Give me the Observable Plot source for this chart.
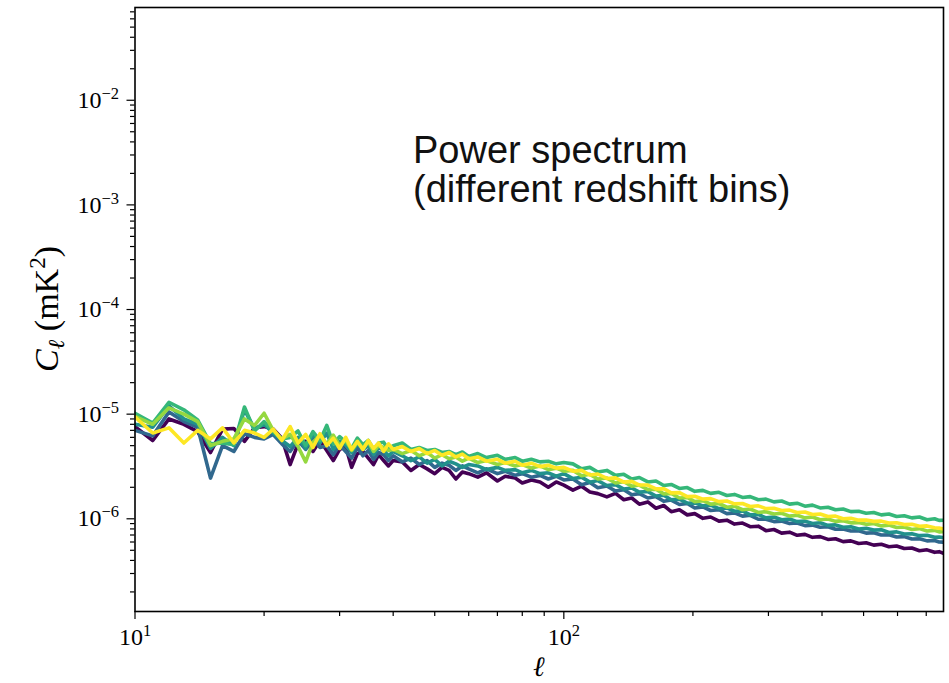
<!DOCTYPE html>
<html><head><meta charset="utf-8">
<script src="https://cdn.jsdelivr.net/npm/d3@7"></script>
<script src="https://cdn.jsdelivr.net/npm/@observablehq/plot@0.6"></script>
<style>
html,body{margin:0;padding:0;background:#fff;}
#chart{width:949px;height:683px;overflow:hidden;}
</style></head><body><div id="chart"></div>
<script>
// multipole ℓ sample points
const ell = [10,11,12,13,14,15,16,17,18,19,20,21,22,23,24,25,26,27,28,29,30,31,32,33,34,35,36,37,38,39,40,
42,44,46,48,50,52,54,56,58,60,
63,66,70,73,77,80,84,88,92,96,100,
105,110,115,120,126,132,138,144,150,
157,164,171,178,186,194,202,
211,220,230,240,250,261,272,284,296,
309,322,336,350,365,380,396,413,430,448,467,487,
507,528,550,573,597,622,648,675,703,732,750,768];

// C_ℓ values in units of 1e-6 mK^2, one array per redshift bin
const unit = 1e-6;
const bin1 = [7.6,5.6,9.0,8.0,6.8,4.3,7.2,7.3,5.5,7.4,7.6,
7.2,5.9,3.3,5.2,5.5,4.4,5.6,4.5,3.6,4.6,4.9,3.1,4.2,4.4,3.8,3.3,4.1,3.6,3.2,3.6,
3.5,2.9,3.3,3.0,2.7,3.1,2.9,2.4,2.8,2.7,
2.5,2.75,2.3,2.55,2.45,2.2,2.35,2.25,2.0,2.25,2.1,
1.88,2.05,1.8,1.74,1.62,1.75,1.52,1.58,1.38,
1.45,1.26,1.34,1.17,1.22,1.09,1.12,
1.01,1.04,0.95,0.97,0.89,0.91,0.84,0.85,0.77,
0.79,0.73,0.745,0.695,0.71,0.665,0.675,0.635,0.645,0.605,0.615,0.58,
0.59,0.56,0.57,0.54,0.55,0.52,0.525,0.495,0.505,0.478,0.485,0.468];
const bin2 = [7.0,6.2,10.5,8.5,7.5,2.45,5.0,4.4,6.5,6.0,5.8,
6.4,5.2,4.4,5.6,4.6,5.9,4.8,5.0,4.1,5.1,4.4,3.8,4.8,4.0,4.5,3.7,4.3,4.1,3.6,4.0,
3.5,3.8,3.3,3.6,3.1,3.4,3.25,2.9,3.2,3.0,
2.75,3.0,2.7,2.85,2.6,2.7,2.5,2.6,2.4,2.55,2.35,
2.4,2.12,2.22,1.98,2.06,1.84,1.9,1.7,1.74,
1.58,1.63,1.47,1.51,1.37,1.4,1.27,
1.3,1.2,1.22,1.12,1.14,1.06,1.08,0.99,0.99,
0.94,0.95,0.9,0.91,0.86,0.87,0.83,0.84,0.795,0.8,0.765,0.77,
0.73,0.735,0.7,0.705,0.67,0.675,0.64,0.645,0.615,0.62,0.6,0.598];
const bin3 = [8.0,7.5,12.0,9.0,8.0,4.7,6.0,5.0,11.0,7.2,8.0,
6.6,5.6,4.9,6.0,4.7,6.4,5.3,6.6,4.6,5.5,5.0,4.3,5.2,4.6,5.0,4.1,4.8,4.5,4.0,4.4,
4.0,3.6,3.9,3.4,3.7,3.2,3.55,3.35,3.1,3.3,
3.2,2.95,3.1,2.9,2.95,2.75,2.9,2.7,2.75,2.55,2.7,
2.42,2.5,2.24,2.32,2.08,2.12,1.92,1.97,1.8,
1.82,1.65,1.68,1.52,1.54,1.41,1.42,
1.33,1.35,1.25,1.27,1.18,1.19,1.09,1.1,1.02,
1.04,0.98,0.995,0.94,0.95,0.9,0.915,0.865,0.875,0.83,0.84,0.8,
0.81,0.78,0.785,0.74,0.75,0.715,0.72,0.69,0.695,0.665,0.67,0.66];
const bin4 = [10.2,8.2,13.0,11.0,8.8,5.2,5.3,5.1,11.7,6.9,8.5,
6.8,5.8,6.0,6.9,5.0,6.8,5.6,7.8,5.2,6.1,5.4,4.7,5.9,5.1,5.6,4.6,5.3,5.4,4.6,5.0,
5.3,4.6,4.8,4.5,4.6,4.3,4.4,4.1,4.35,3.95,
4.2,3.85,4.05,3.7,3.85,3.55,3.7,3.5,3.55,3.35,3.45,
3.35,3.0,3.1,2.8,2.9,2.6,2.66,2.4,2.48,
2.25,2.3,2.08,2.13,1.95,1.99,1.83,
1.87,1.75,1.79,1.67,1.71,1.6,1.63,1.52,1.54,
1.45,1.48,1.38,1.41,1.32,1.35,1.27,1.29,1.22,1.24,1.17,1.18,
1.13,1.15,1.09,1.11,1.05,1.07,1.02,1.04,0.98,1.0,0.965,0.97];
const bin5 = [9.5,8.0,11.5,10.0,8.5,5.0,5.5,5.8,9.0,7.8,10.2,
7.0,5.8,6.4,4.9,3.5,5.4,6.3,5.2,6.3,5.0,5.7,4.5,5.4,4.7,5.5,4.4,5.0,4.8,4.5,4.6,
4.2,4.5,4.0,4.3,3.8,4.1,3.75,3.9,3.55,3.8,
3.45,3.6,3.3,3.45,3.2,3.3,3.05,3.2,2.95,3.05,2.85,
2.9,2.58,2.66,2.4,2.45,2.2,2.26,2.05,2.1,
1.9,1.92,1.73,1.75,1.58,1.6,1.46,
1.49,1.38,1.4,1.29,1.32,1.22,1.24,1.15,1.17,
1.11,1.13,1.06,1.08,1.02,1.04,0.98,0.995,0.945,0.96,0.915,0.92,
0.885,0.9,0.855,0.87,0.825,0.835,0.79,0.805,0.765,0.775,0.75,0.752];
const bin6 = [9.4,6.6,7.4,5.3,7.0,5.8,7.4,5.3,7.0,6.6,6.0,
7.2,5.6,7.6,5.3,6.4,4.8,6.5,5.0,5.9,4.7,6.0,4.6,5.5,4.6,5.6,4.7,5.3,4.4,5.2,4.6,
4.9,4.4,4.7,4.2,4.5,4.05,4.3,3.9,4.15,3.75,
3.9,3.55,3.7,3.4,3.55,3.25,3.4,3.15,3.25,3.05,3.1,
2.85,2.9,2.62,2.68,2.43,2.46,2.24,2.28,2.1,
2.1,1.93,1.94,1.77,1.78,1.63,1.64,
1.54,1.56,1.46,1.48,1.39,1.4,1.31,1.33,1.25,
1.26,1.2,1.21,1.15,1.16,1.1,1.11,1.05,1.06,1.0,1.01,0.97,
0.975,0.945,0.95,0.91,0.915,0.88,0.885,0.85,0.855,0.82,0.815,0.8];

const seriesNames = ["bin 1","bin 2","bin 3","bin 4","bin 5","bin 6"];
const seriesValues = [bin1, bin2, bin3, bin4, bin5, bin6];
const seriesColors = ["#440154","#31688e","#21918c","#35b779","#95d840","#fde725"];

// axis ticks
const xMajorTicks = [10, 100];
const xMinorTicks = [20,30,40,50,60,70,80,90,200,300,400,500,600,700];
const yMajorTicks = [1e-6, 1e-5, 1e-4, 1e-3, 1e-2];
const yDomain = [1.3e-7, 0.077];
const xDomain = [10, 768];
const annotation = "Power spectrum\n(different redshift bins)";

const yMinorTicks = [];
for (let e = -7; e <= -2; e++) for (let m = 2; m <= 9; m++) {
  const v = m * Math.pow(10, e);
  if (v >= yDomain[0] && v <= yDomain[1]) yMinorTicks.push(v);
}

const rows = seriesNames.flatMap((name, i) =>
  ell.map((l, j) => ({bin: name, ell: l, cl: seriesValues[i][j] * unit})));

const expFmt = d => "10^" + String(Math.round(Math.log10(d))).replace("-", "\u2212");
const serif = "'Liberation Serif', 'DejaVu Serif', serif";

const chart = Plot.plot({
  width: 949, height: 683,
  marginTop: 7, marginBottom: 72, marginLeft: 134.5, marginRight: 6,
  x: {type: "log", domain: xDomain, label: null},
  y: {type: "log", domain: yDomain, label: null},
  color: {domain: seriesNames, range: seriesColors},
  style: {fontFamily: serif, fontSize: "24px", color: "#000", background: "#fff", overflow: "visible"},
  marks: [
    Plot.line(rows, {x: "ell", y: "cl", z: "bin", stroke: "bin", strokeWidth: 3.6,
      strokeLinejoin: "round", strokeLinecap: "round", clip: true}),
    Plot.axisY(yMinorTicks, {tickSize: 4.5, tickFormat: () => "", strokeWidth: 1.2, label: null}),
    Plot.axisY(yMajorTicks, {tickSize: 8, tickPadding: 8, tickFormat: expFmt, strokeWidth: 1.2, label: null,
      fontSize: 24, fontFamily: serif}),
    Plot.axisX(xMinorTicks, {tickSize: 5, tickFormat: () => "", strokeWidth: 1.2, label: null}),
    Plot.axisX(xMajorTicks, {tickSize: 8, tickPadding: 8, tickFormat: expFmt, strokeWidth: 1.2, label: null,
      fontSize: 24, fontFamily: serif}),
    Plot.frame({stroke: "#000", strokeWidth: 1.6}),
    Plot.text([annotation], {text: d => d, frameAnchor: "top-left", dx: 278, dy: 128,
      lineAnchor: "top", textAnchor: "start", fontSize: 38, lineHeight: 1.03,
      fontFamily: "'Liberation Sans', Arial, sans-serif", fill: "#111"})
  ]
});

const svg = d3.select(chart);
// superscript exponents on tick labels
svg.selectAll("text").each(function() {
  const t = this.textContent;
  if (this.childElementCount === 0 && t.startsWith("10^")) {
    const el = d3.select(this);
    el.style("font-size", "24px").style("font-family", serif);
    el.text("10");
    el.append("tspan").style("font-size", "16.5px").attr("dy", -9).text(t.slice(3));
  }
});
// y axis title C_ℓ (mK²)
const yl = svg.append("text")
  .attr("transform", `translate(58,${(7 + 611) / 2}) rotate(-90)`)
  .attr("text-anchor", "middle").attr("font-family", serif).attr("font-size", 34).attr("fill", "#000");
yl.append("tspan").attr("font-style", "italic").text("C");
yl.append("tspan").attr("font-style", "italic").attr("font-size", 23).attr("dy", 6).text("\u2113");
yl.append("tspan").attr("dy", -6).text(" (mK");
yl.append("tspan").attr("font-size", 23).attr("dy", -13).text("2");
yl.append("tspan").attr("dy", 13).text(")");
// x axis title ℓ
svg.append("text").attr("x", (134.5 + 943) / 2).attr("y", 676)
  .attr("text-anchor", "middle").attr("font-family", serif).attr("font-size", 28)
  .attr("font-style", "italic").attr("fill", "#000").text("\u2113");

document.getElementById("chart").appendChild(chart);
</script>
</body></html>
